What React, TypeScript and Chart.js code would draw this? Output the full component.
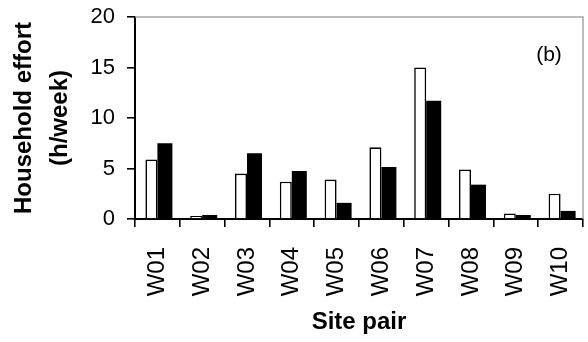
import React, { useEffect, useRef } from "react";
import { Chart, registerables } from "chart.js";

Chart.register(...registerables);

const categories = ["W01", "W02", "W03", "W04", "W05", "W06", "W07", "W08", "W09", "W10"];
const seriesWhite = [5.9, 0.3, 4.5, 3.7, 3.9, 7.1, 15.0, 4.9, 0.55, 2.5];
const seriesBlack = [7.5, 0.4, 6.5, 4.75, 1.6, 5.15, 11.7, 3.4, 0.4, 0.8];
const yTitle = ["Household effort", "(h/week)"];
const xTitle = "Site pair";
const panelLabel = "(b)";

const FONT = "'Liberation Sans', Arial, Helvetica, sans-serif";

const framePlugin = {
  id: "frameAndLabel",
  afterDraw(chart: any) {
    const { ctx, chartArea } = chart;
    ctx.save();
    ctx.strokeStyle = "#a6a6a6";
    ctx.lineWidth = 1.5;
    ctx.beginPath();
    ctx.moveTo(chartArea.left, chartArea.top);
    ctx.lineTo(chartArea.right, chartArea.top);
    ctx.lineTo(chartArea.right, chartArea.bottom);
    ctx.stroke();
    ctx.fillStyle = "#000";
    ctx.font = `21px ${FONT}`;
    ctx.textAlign = "center";
    ctx.textBaseline = "middle";
    ctx.fillText(panelLabel, chartArea.right - 34, chartArea.top + 38);
    ctx.restore();
  },
};

export default function App() {
  const ref = useRef<HTMLCanvasElement | null>(null);
  useEffect(() => {
    if (!ref.current) return;
    const chart = new Chart(ref.current, {
      type: "bar",
      data: {
        labels: categories,
        datasets: [
          {
            data: seriesWhite,
            backgroundColor: "#ffffff",
            borderColor: "#000000",
            borderWidth: 1.6,
            categoryPercentage: 24 / 44.8,
            barPercentage: 1,
          },
          {
            data: seriesBlack,
            backgroundColor: "#000000",
            borderColor: "#000000",
            borderWidth: 0,
            categoryPercentage: 30 / 44.8,
            barPercentage: 1,
          },
        ],
      },
      options: {
        responsive: false,
        animation: false,
        layout: { padding: { top: 17, right: 5, left: 0, bottom: 0 } },
        plugins: {
          legend: { display: false },
          tooltip: { enabled: false },
        },
        scales: {
          x: {
            afterFit: (s: any) => {
              s.height = 123;
              s.paddingLeft = 0;
              s.paddingRight = 0;
            },
            grid: {
              display: true,
              drawOnChartArea: false,
              drawTicks: true,
              tickLength: 8,
              color: "#000",
              lineWidth: 1.6,
              offset: true,
            },
            border: { display: true, color: "#000", width: 2 },
            ticks: {
              color: "#000",
              font: { family: FONT, size: 24 },
              minRotation: 90,
              maxRotation: 90,
              padding: 20,
              autoSkip: false,
            },
            title: {
              display: true,
              text: xTitle,
              color: "#000",
              font: { family: FONT, size: 24, weight: "bold" },
              padding: { top: 0, bottom: 5 },
            },
          },
          y: {
            min: 0,
            max: 20,
            afterFit: (s: any) => {
              s.width = 135;
              s.paddingTop = 0;
              s.paddingBottom = 0;
            },
            grid: {
              display: true,
              drawOnChartArea: false,
              drawTicks: true,
              tickLength: 8,
              color: "#000",
              lineWidth: 1.6,
            },
            border: { display: true, color: "#000", width: 2 },
            ticks: {
              stepSize: 5,
              color: "#000",
              font: { family: FONT, size: 22 },
              padding: 12,
            },
            title: {
              display: true,
              text: yTitle,
              color: "#000",
              font: { family: FONT, size: 24, weight: "bold", lineHeight: 1.5 },
              padding: { top: 6, bottom: 0 },
            },
          },
        },
      },
      plugins: [framePlugin],
    });
    return () => chart.destroy();
  }, []);
  return (
    <div style={{ position: "absolute", left: 0, top: 0, width: 588, height: 342, background: "#fff" }}>
      <canvas ref={ref} width={588} height={342} style={{ display: "block" }} />
    </div>
  );
}
